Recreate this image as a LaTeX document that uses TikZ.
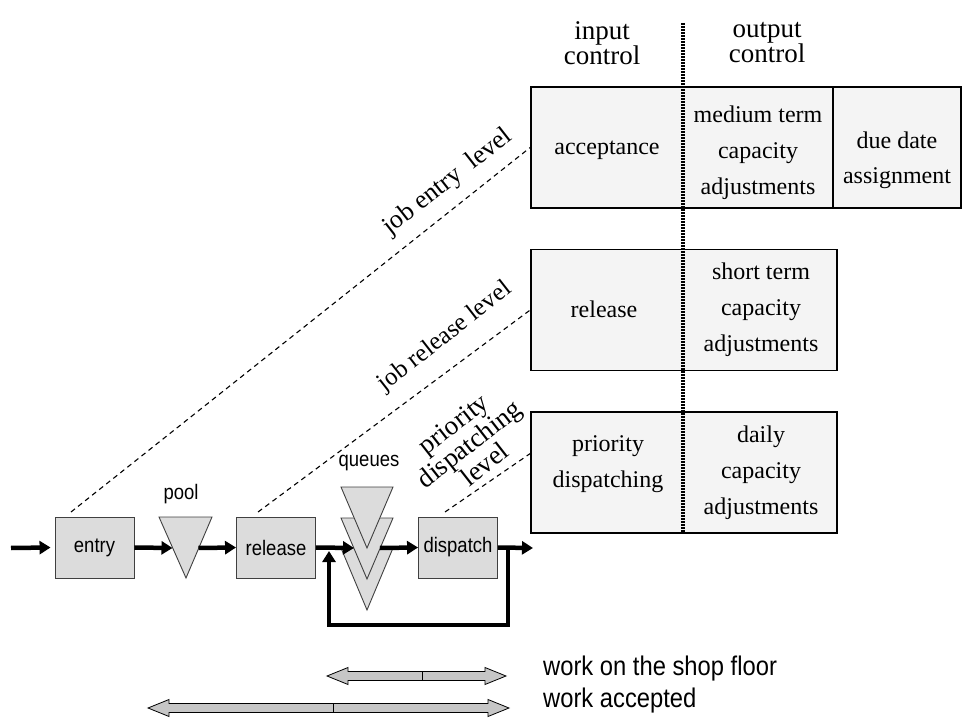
\documentclass[tikz,border=0pt]{standalone}
\usepackage{fontspec}
\setmainfont{Liberation Serif}
\newfontfamily\flowsans[FakeStretch=0.88]{Liberation Sans}
\usetikzlibrary{arrows.meta}
\definecolor{ctrlfill}{HTML}{F4F4F4}
\definecolor{flowfill}{HTML}{DCDCDC}
\definecolor{arrowfill}{HTML}{C6C6C6}
\tikzset{
  ctrlbox/.style={draw, line width=1.6pt, fill=ctrlfill, inner sep=0pt},
  celltext/.style={align=center, inner sep=0pt, font=\fontsize{24}{36}\selectfont},
  hdrtext/.style={align=center, inner sep=0pt, font=\fontsize{27}{25}\selectfont},
  leveltext/.style={align=center, inner sep=0pt, rotate=38, font=\fontsize{26}{24}\selectfont},
  flowbox/.style={draw=black!75, line width=0.9pt, fill=flowfill, minimum width=79pt,
    minimum height=61pt, inner sep=0pt, font=\flowsans\fontsize{21}{24}\selectfont},
  flowlabel/.style={inner sep=0pt, font=\flowsans\fontsize{21}{24}\selectfont},
  queuetri/.style={draw=black!75, line width=0.9pt, fill=flowfill},
  flowarrow/.style={line width=4.5pt, -{Triangle[length=11pt,width=13pt]}},
  levelline/.style={line width=1.1pt, dash pattern=on 5pt off 4pt},
  ctrlsplit/.style={line width=3.5pt, dash pattern=on 1.6pt off 1.4pt},
  bigarrow/.style={draw=black, line width=0.8pt, fill=arrowfill},
  worktext/.style={anchor=west, inner sep=0pt, font=\flowsans\fontsize{27}{30}\selectfont},
}
\begin{document}
\begin{tikzpicture}[x=1pt,y=-1pt]
\useasboundingbox (0,0) rectangle (962,722);

% ---------------- control boxes ----------------
\node[ctrlbox, minimum width=430pt, minimum height=121pt] (boxA) at (746,147.5) {};
\node[ctrlbox, minimum width=306pt, minimum height=121pt] (boxB) at (684,310) {};
\node[ctrlbox, minimum width=306pt, minimum height=121pt] (boxC) at (684,472.5) {};
\coordinate (divAtop) at (833,87);
\coordinate (divAbot) at (833,208);
\draw[line width=1.6pt] (divAtop) -- (divAbot);

\node[celltext] (acc) at (607,150) {acceptance};
\node[celltext] (medcap) at (758,153) {medium term\\capacity\\adjustments};
\node[celltext, font=\fontsize{24}{35}\selectfont] (duedate) at (897,160) {due date\\assignment};
\node[celltext] (rel) at (604,309) {release};
\node[celltext] (shortcap) at (761,310) {short term\\capacity\\adjustments};
\node[celltext] (prio) at (608,464) {priority\\dispatching};
\node[celltext] (dailycap) at (761,473) {daily\\capacity\\adjustments};

\node[hdrtext] (inhdr) at (602,43) {input\\control};
\node[hdrtext] (outhdr) at (767,43) {output\\control};

\coordinate (splittop) at (683,23);
\coordinate (splitbot) at (683,533);
\draw[ctrlsplit] (splittop) -- (splitbot);

% ---------------- shop floor flow ----------------
\node[flowbox] (entry) at (94.5,547.5) {entry};
\node[flowbox] (release) at (276,547.5) {release};
\node[flowbox] (dispatch) at (458,547.5) {dispatch};

\draw[queuetri] (159,517) -- (212,517) -- (186,578) -- cycle;
\node[flowlabel] (poollbl) at (181,494) {pool};

\draw[queuetri] (341,548) -- (393,548) -- (367,610) -- cycle;
\draw[queuetri] (341,518) -- (393,518) -- (367,579) -- cycle;
\draw[queuetri] (341,487) -- (393,487) -- (367,548) -- cycle;
\node[flowlabel] (queueslbl) at (369,463) {queues};

\coordinate (inflow) at (11,548);
\coordinate (poolL) at (172.5,548);
\coordinate (poolR) at (198.5,548);
\coordinate (queueL) at (354,548);
\coordinate (queueR) at (380,548);
\coordinate (outflow) at (533,548);
\coordinate (fbstart) at (508,548);
\coordinate (fbend) at (329,551);

\draw[flowarrow] (inflow) -- ([xshift=-4pt]entry.west);
\draw[flowarrow] (entry.east) -- (poolL);
\draw[flowarrow] (poolR) -- (release.west);
\draw[flowarrow] (release.east) -- (queueL);
\draw[flowarrow] (queueR) -- (dispatch.west);
\draw[flowarrow] (dispatch.east) -- (outflow);
\draw[flowarrow] (fbstart) -- ++(0,77) -| (fbend);

% ---------------- level lines ----------------
\coordinate (entrylvl) at (71,512);
\coordinate (releaselvl) at (258,512);
\coordinate (dispatchlvl) at (445,512);
\coordinate (boxCin) at (531,453);
\draw[levelline] (entrylvl) -- (boxA.west);
\draw[levelline] (releaselvl) -- (boxB.west);
\draw[levelline] (dispatchlvl) -- (boxCin);

\node[leveltext] (entrylbl) at (448,182) {job entry\hspace{0.5em}level};
\node[leveltext, font=\fontsize{25}{24}\selectfont] (releaselbl) at (445,337) {job release level};
\node[leveltext, font=\fontsize{27}{24}\selectfont] (dispatchlbl) at (469,444) {priority\\dispatching\\level};

% ---------------- work arrows ----------------
\draw[bigarrow] (327,676) -- (348,667.5) -- (348,671.5) -- (485,671.5) -- (485,667.5)
  -- (506,676) -- (485,684.5) -- (485,680.5) -- (348,680.5) -- (348,684.5) -- cycle;
\draw[line width=0.8pt] (422,671.5) -- (422,680.5);
\draw[bigarrow] (148,708) -- (169,699.5) -- (169,703.5) -- (488,703.5) -- (488,699.5)
  -- (509,708) -- (488,716.5) -- (488,712.5) -- (169,712.5) -- (169,716.5) -- cycle;
\draw[line width=0.8pt] (333,703.5) -- (333,712.5);

\node[worktext] (shoptxt) at (543,669) {work on the shop floor};
\node[worktext] (acctxt) at (543,701) {work accepted};
\end{tikzpicture}
\end{document}
